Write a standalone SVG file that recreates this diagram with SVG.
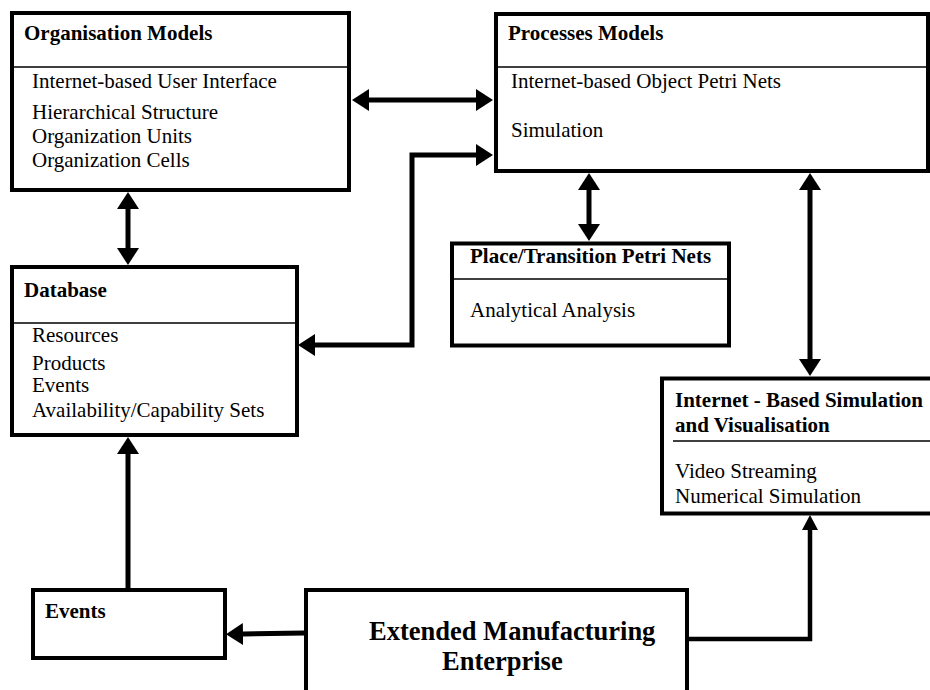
<svg xmlns="http://www.w3.org/2000/svg" width="930" height="690" viewBox="0 0 930 690">
<style>
.box{fill:#fff;stroke:#000;stroke-width:4}
.div{stroke:#000;stroke-width:1.5}
.t{font-family:"Liberation Serif","Times New Roman",serif;font-size:21px;fill:#000}
.b{font-weight:bold}
.big{font-family:"Liberation Serif","Times New Roman",serif;font-size:26.5px;font-weight:bold;fill:#000}
.c{fill:none;stroke:#000;stroke-width:5}
.c2{fill:none;stroke:#000;stroke-width:4.5}
</style>
<defs>
<marker id="ah" markerUnits="userSpaceOnUse" markerWidth="18" markerHeight="22" refX="0" refY="11" orient="auto-start-reverse" viewBox="0 0 18 22">
<path d="M0,0 L17,11 L0,22 Z" fill="#000"/>
</marker>
<marker id="ahs" markerUnits="userSpaceOnUse" markerWidth="16" markerHeight="16" refX="0" refY="8" orient="auto-start-reverse" viewBox="0 0 16 16">
<path d="M0,0 L15,8 L0,16 Z" fill="#000"/>
</marker>
</defs>
<rect width="930" height="690" fill="#fff"/>
<g id="connectors">
<line class="c" x1="369" y1="100" x2="476" y2="100" marker-start="url(#ah)" marker-end="url(#ah)"/>
<path class="c" d="M315,345 H412 V155 H476" marker-start="url(#ah)" marker-end="url(#ah)"/>
<line class="c" x1="128" y1="209" x2="128" y2="248" marker-start="url(#ah)" marker-end="url(#ah)"/>
<line class="c" x1="589" y1="190" x2="589" y2="224" marker-start="url(#ah)" marker-end="url(#ah)"/>
<line class="c" x1="810" y1="190" x2="810" y2="359" marker-start="url(#ah)" marker-end="url(#ah)"/>
<line class="c" x1="128" y1="589" x2="128" y2="454" marker-end="url(#ah)"/>
<line class="c" x1="305" y1="633" x2="243" y2="634" marker-end="url(#ah)"/>
<path class="c2" d="M687,639 H810 V530" marker-end="url(#ahs)"/>
</g>
<g id="organisation-models">
<rect class="box" x="12" y="13" width="337" height="177"/>
<line class="div" x1="14" y1="67" x2="347" y2="67"/>
<text class="t b" x="24" y="40">Organisation Models</text>
<text class="t" x="32" y="88">Internet-based User Interface</text>
<text class="t" x="32" y="119">Hierarchical Structure</text>
<text class="t" x="32" y="143">Organization Units</text>
<text class="t" x="32" y="167">Organization Cells</text>
</g>
<g id="processes-models">
<rect class="box" x="496" y="14" width="432" height="157"/>
<line class="div" x1="498" y1="67" x2="926" y2="67"/>
<text class="t b" x="508" y="40">Processes Models</text>
<text class="t" x="511" y="88">Internet-based Object Petri Nets</text>
<text class="t" x="511" y="137">Simulation</text>
</g>
<g id="database">
<rect class="box" x="12" y="267" width="285" height="168"/>
<line class="div" x1="14" y1="323" x2="295" y2="323"/>
<text class="t b" x="24" y="297">Database</text>
<text class="t" x="32" y="342">Resources</text>
<text class="t" x="32" y="370">Products</text>
<text class="t" x="32" y="392">Events</text>
<text class="t" x="32" y="417">Availability/Capability Sets</text>
</g>
<g id="place-transition">
<rect class="box" x="452" y="243.5" width="277" height="102"/>
<line class="div" x1="454" y1="279" x2="727" y2="279"/>
<text class="t b" x="470" y="263">Place/Transition Petri Nets</text>
<text class="t" x="470" y="317">Analytical Analysis</text>
</g>
<g id="simulation-visualisation">
<rect class="box" x="662" y="378.5" width="270" height="135"/>
<line class="div" x1="673" y1="441" x2="930" y2="441"/>
<text class="t b" x="675" y="407">Internet - Based Simulation</text>
<text class="t b" x="675" y="432">and Visualisation</text>
<text class="t" x="675" y="478">Video Streaming</text>
<text class="t" x="675" y="503">Numerical Simulation</text>
</g>
<g id="events">
<rect class="box" x="33" y="590" width="192" height="68"/>
<text class="t b" x="45" y="618">Events</text>
</g>
<g id="extended-manufacturing-enterprise">
<rect class="box" x="306" y="590" width="381" height="104"/>
<text class="big" x="369" y="640">Extended Manufacturing</text>
<text class="big" x="442" y="670">Enterprise</text>
</g>
</svg>
